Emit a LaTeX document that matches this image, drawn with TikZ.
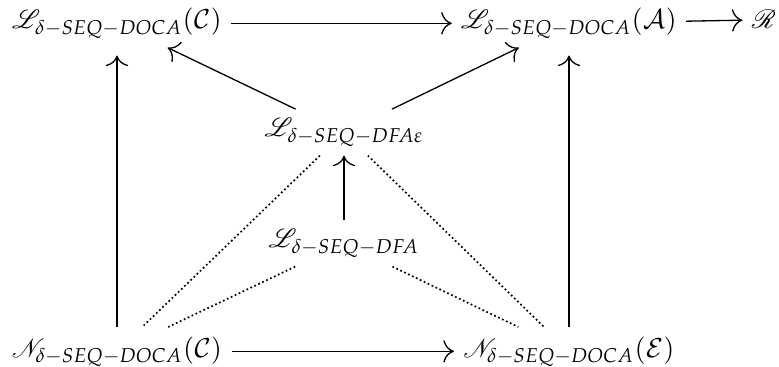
\documentclass[tikz,border=0pt]{standalone}
\usepackage{mathpazo}
\usepackage{mathrsfs}
\usetikzlibrary{arrows.meta}
\begin{document}
\begin{tikzpicture}[x=0.38pt,y=-0.38pt,line width=0.5pt,
    lang/.style={anchor=base},
    arr/.style={-{Computer Modern Rightarrow[scale=1.5]}},
    dots/.style={densely dotted,line width=0.65pt}]
  \useasboundingbox (0,0) rectangle (779,367);
  % top row
  \node[lang] (LC) at (117,29) {$\mathscr{L}_{\delta-SEQ-DOCA}(\mathcal{C})$};
  \node[lang] (LA) at (569,29) {$\mathscr{L}_{\delta-SEQ-DOCA}(\mathcal{A})$};
  \node[lang] (R) at (764,29) {$\mathscr{R}$};
  % middle
  \node[lang] (LDFAe) at (344,137) {$\mathscr{L}_{\delta-SEQ-DFA\varepsilon}$};
  \node[lang] (LDFA) at (344,248) {$\mathscr{L}_{\delta-SEQ-DFA}$};
  % bottom row
  \node[lang] (NC) at (117,357) {$\mathscr{N}_{\delta-SEQ-DOCA}(\mathcal{C})$};
  \node[lang] (NE) at (569,357) {$\mathscr{N}_{\delta-SEQ-DOCA}(\mathcal{E})$};
  \draw[arr] (LC) -- (LA);
  \draw[arr] (LA) -- (R);
  \draw[arr] (NC) -- (NE);
  \draw[arr,shorten >=3pt] (NC) -- (LC);
  \draw[arr,shorten >=3pt] (NE) -- (LA);
  \draw[arr] (LDFAe) -- (LC);
  \draw[arr] (LDFAe) -- (LA);
  \draw[arr] (LDFA) -- (LDFAe);
  \draw[dots] (LDFAe) -- (NC);
  \draw[dots] (LDFAe) -- (NE);
  \draw[dots] (LDFA) -- (NC);
  \draw[dots] (LDFA) -- (NE);
\end{tikzpicture}
\end{document}
